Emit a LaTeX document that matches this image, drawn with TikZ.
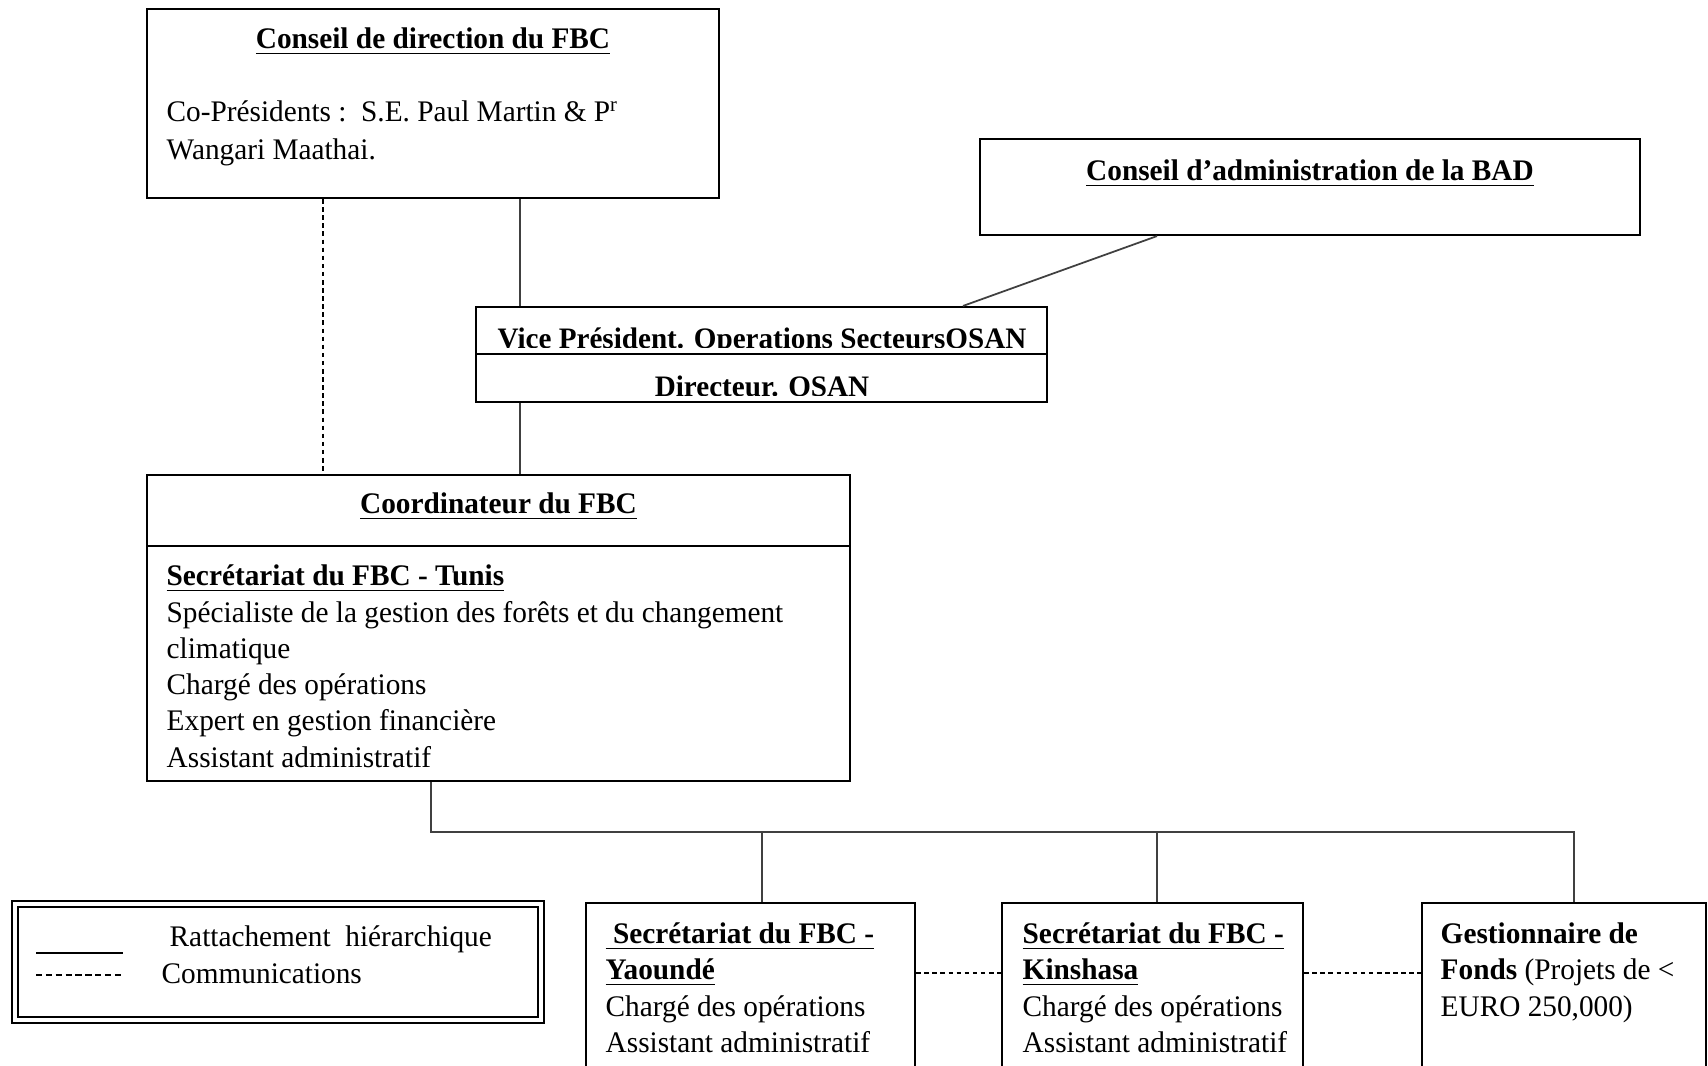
\documentclass[tikz,border=0pt]{standalone}
\usepackage{fontspec}
\setmainfont{Liberation Serif}[FakeStretch=0.98]
\usetikzlibrary{positioning,calc}

\tikzset{
  box/.style={draw, line width=0.6pt, inner sep=0pt},
  link/.style={line width=0.5pt, draw=black!75},
  comm/.style={line width=0.5pt, dash pattern=on 1.3pt off 1pt},
  txt/.style={inner sep=0pt, anchor=base west},
  ttl/.style={inner sep=0pt, anchor=base, font=\fontsize{8.5}{10.4}\selectfont\bfseries},
  vptxt/.style={inner sep=0pt, anchor=base, font=\fontsize{8.45}{10}\selectfont\bfseries}
}

\begin{document}
\begin{tikzpicture}[x=0.01cm, y=-0.01cm, font=\fontsize{8.5}{10.4}\selectfont]
    \useasboundingbox (0,0) rectangle (1708,1066);
    \clip (0,0) rectangle (1708,1066);
    % Boxes
    \node[box, minimum width=5.72cm, minimum height=1.89cm] (cdir) at (433,103.5) {};
    \node[box, minimum width=6.60cm, minimum height=0.96cm] (bad) at (1310,187) {};
    \node[box, minimum width=5.71cm, minimum height=0.47cm] (vptop) at (761.5,330.5) {};
    \node[box, minimum width=5.71cm, minimum height=0.48cm] (vpbot) at (761.5,378) {};
    \node[box, minimum width=7.03cm, minimum height=0.71cm] (coordhead) at (498.5,510.5) {};
    \node[box, minimum width=7.03cm, minimum height=2.35cm] (coordbody) at (498.5,663.5) {};
    \node[box, minimum width=3.29cm, minimum height=2.0cm] (yao) at (750.5,1003) {};
    \node[box, minimum width=3.01cm, minimum height=2.0cm] (kin) at (1152.5,1003) {};
    \node[box, minimum width=2.84cm, minimum height=2.0cm] (gest) at (1564,1003) {};
    \node[draw, double, line width=0.5pt, double distance=1.3pt,
          minimum width=5.26cm, minimum height=1.16cm] (legend) at (278,962) {};

    % Conseil de direction
    \node[ttl] (cdirT) at (433,48) {\underline{Conseil de direction du FBC}};
    \node[txt] (cdirL1) at (166,121) {Co-Présidents :\ \ S.E. Paul Martin \& P\textsuperscript{r}};
    \node[txt] (cdirL2) at (166,159) {Wangari Maathai.};
    % BAD
    \node[ttl] (badT) at (1310,180) {\underline{Conseil d’administration de la BAD}};
    % Vice President (text cut at its baseline)
    \begin{scope}
        \clip (vptop.north west) rectangle (vptop.east |- 0,347);
        \node[vptxt] (vpT) at (762,348) {Vice Président. Operations SecteursOSAN};
    \end{scope}
    \begin{scope}
        \clip (vpbot.north west) rectangle (vpbot.east |- 0,395);
        \node[vptxt] (vpB) at (762,396) {Directeur. OSAN};
    \end{scope}
    % Coordinateur
    \node[ttl] (coordT) at (498.5,513) {\underline{Coordinateur du FBC}};
    \node[txt, font=\fontsize{8.5}{10.4}\selectfont\bfseries] (tunis) at (166,585) {\underline{Secrétariat du FBC - Tunis}};
    \node[txt] (coordL1) at (166,622) {Spécialiste de la gestion des forêts et du changement};
    \node[txt] (coordL2) at (166,658) {climatique};
    \node[txt] (coordL3) at (166,694) {Chargé des opérations};
    \node[txt] (coordL4) at (166,730) {Expert en gestion financière};
    \node[txt] (coordL5) at (166,767) {Assistant administratif};
    % Yaounde
    \node[txt, font=\fontsize{8.5}{10.4}\selectfont\bfseries] (yaoL1) at (605,943) {\underline{\ Secrétariat du FBC -}};
    \node[txt, font=\fontsize{8.5}{10.4}\selectfont\bfseries] (yaoL2) at (605,979) {\underline{Yaoundé}};
    \node[txt] (yaoL3) at (605,1016) {Chargé des opérations};
    \node[txt] (yaoL4) at (605,1052) {Assistant administratif};
    % Kinshasa
    \node[txt, font=\fontsize{8.5}{10.4}\selectfont\bfseries] (kinL1) at (1022,943) {\underline{Secrétariat du FBC -}};
    \node[txt, font=\fontsize{8.5}{10.4}\selectfont\bfseries] (kinL2) at (1022,979) {\underline{Kinshasa}};
    \node[txt] (kinL3) at (1022,1016) {Chargé des opérations};
    \node[txt] (kinL4) at (1022,1052) {Assistant administratif};
    % Gestionnaire
    \node[txt] (gestL1) at (1440,943) {\textbf{Gestionnaire de}};
    \node[txt] (gestL2) at (1440,979) {\textbf{Fonds} (Projets de <};
    \node[txt] (gestL3) at (1440,1016) {EURO 250,000)};
    % Legend
    \draw[link, draw=black] (36,953) -- (123,953);
    \draw[line width=0.5pt, dash pattern=on 1.8pt off 1pt] (36,975) -- (123,975);
    \node[txt] (legL1) at (169,946) {Rattachement\ \ hiérarchique};
    \node[txt] (legL2) at (161,983) {Communications};

    % Links
    \coordinate (spine) at (520,0);
    \coordinate (commx) at (323,0);
    \coordinate (bus) at (0,832);
    \coordinate (dashrow) at (0,973);
    \draw[link] (cdir.south -| spine) -- (vptop.north -| spine);
    \draw[link] (vpbot.south -| spine) -- (coordhead.north -| spine);
    \draw[comm] (cdir.south -| commx) -- (coordhead.north -| commx);
    \draw[link] (bad.south -| 1157,0) -- (vptop.north -| 963,0);
    \draw[link] (coordbody.south -| 431,0) |- (bus -| 1574,0) -- (gest.north -| 1574,0);
    \draw[link] (bus -| 762,0) -- (yao.north -| 762,0);
    \draw[link] (bus -| 1157,0) -- (kin.north -| 1157,0);
    \draw[comm] (yao.east |- dashrow) -- (kin.west |- dashrow);
    \draw[comm] (kin.east |- dashrow) -- (gest.west |- dashrow);
\end{tikzpicture}
\end{document}
